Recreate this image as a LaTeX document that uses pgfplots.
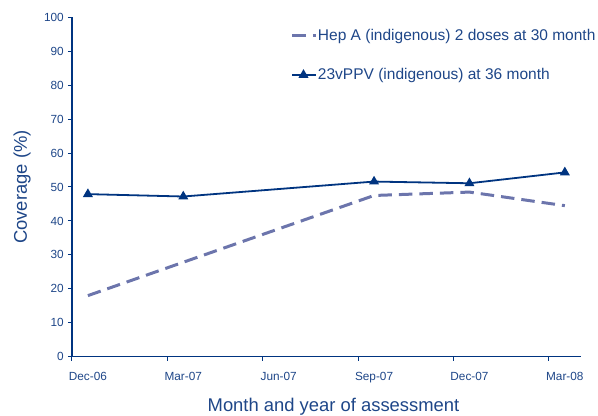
\documentclass[border=0pt]{standalone}
\usepackage{fontspec}
\setmainfont{Liberation Sans}
\usepackage{pgfplots}
\pgfplotsset{compat=1.18}
\definecolor{navy}{RGB}{0,52,128}
\definecolor{txt}{RGB}{30,70,136}
\definecolor{slate}{RGB}{108,117,172}
\begin{document}
\begin{tikzpicture}
\begin{axis}[
  scale only axis,
  width=508.7bp, height=339.4bp,
  xmin=0, xmax=5.333, ymin=0, ymax=100,
  axis lines*=left,
  axis line style={navy, line width=1.1bp},
  tick align=outside,
  xtick={0.1667,1.1667,2.1667,3.1667,4.1667,5.1667},
  xticklabels={Dec-06,Mar-07,Jun-07,Sep-07,Dec-07,Mar-08},
  major x tick style={draw=none},
  minor xtick={0,1,2,3,4,5},
  minor x tick style={navy, line width=1bp},
  minor tick length=4bp,
  ytick={0,10,...,100},
  y tick style={navy, line width=1bp},
  major tick length=4bp,
  /pgf/number format/assume math mode=true,
  tick label style={font=\fontsize{11.8bp}{14bp}\selectfont, text=txt},
  xticklabel style={anchor=base, inner sep=0pt, yshift=-20bp},
  yticklabel style={anchor=east, inner sep=0pt, xshift=-4bp},
  xlabel={Month and year of assessment},
  ylabel={Coverage (\%)},
  label style={font=\fontsize{18.4bp}{22bp}\selectfont, text=txt},
  xlabel style={at={(axis description cs:0.514,-0.1615)}, anchor=base},
  ylabel style={at={(axis description cs:-0.0885,0.5)}, anchor=base, rotate=0},
  legend cell align=left,
  legend style={draw=none, fill=none, inner sep=0pt, outer sep=0pt,
    at={(axis description cs:0.4305,0.966)}, anchor=north west,
    font=\fontsize{15.5bp}{18bp}\selectfont, text=txt,
    row sep=27bp,
    nodes={inner sep=0pt},
    /tikz/every even column/.append style={column sep=7bp}},
  legend image code/.code={\draw[mark repeat=2,mark phase=2,#1] plot coordinates {(0bp,0bp)(11bp,0bp)(24bp,0bp)};},
]
\addplot[slate, line width=3bp, dash pattern=on 13.5bp off 7bp, mark=none]
  coordinates {(0.1667,18) (3.1667,47.5) (4.1667,48.5) (5.1667,44.5)};
\addlegendentry{Hep A (indigenous) 2 doses at 30 month}
\addplot[navy, line width=1.8bp, mark=triangle*, mark size=4bp, mark options={solid}]
  coordinates {(0.1667,47.9) (1.1667,47.2) (3.1667,51.6) (4.1667,51.1) (5.1667,54.3)};
\addlegendentry{23vPPV (indigenous) at 36 month}
\coordinate (o) at (rel axis cs:0,0);
\end{axis}
\pgfresetboundingbox
\path (o) ++(-72bp,-59.3bp) rectangle ++(598bp,416bp);
\end{tikzpicture}
\end{document}
